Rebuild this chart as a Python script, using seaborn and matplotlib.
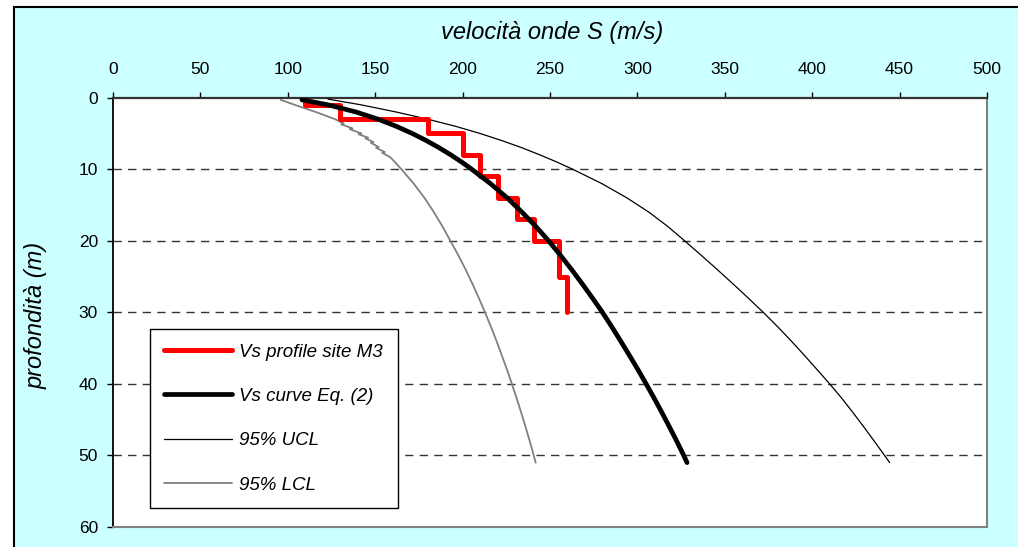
import numpy as np
import pandas as pd
import matplotlib
matplotlib.use("Agg")
import matplotlib.pyplot as plt
from matplotlib.patches import Rectangle
import seaborn as sns

# ---- data ----
# Vs profile site M3 (step profile): layer boundaries (m) and layer velocities (m/s)
profile_depth_bounds = [0, 1, 3, 5, 8, 11, 14, 17, 20, 25, 30]
profile_vs = [110, 130, 180, 200, 210, 220, 231, 241, 255, 260]

# Vs curve Eq. (2)
curve_depth = [0.3, 1, 2, 3, 4, 5, 6, 7, 8, 9, 10, 12, 14, 16, 18, 20, 22, 24, 26,
               28, 30, 32, 34, 36, 38, 40, 42, 44, 46, 48, 50, 51]
curve_vs = [108.1, 123.1, 139.0, 151.6, 162.1, 171.2, 179.3, 186.6, 193.3, 199.5, 205.2,
            215.9, 225.5, 234.0, 241.9, 249.2, 255.9, 262.3, 268.4, 274.3, 280.0, 285.3,
            290.4, 295.4, 300.3, 305.0, 309.6, 314.0, 318.3, 322.5, 326.5, 328.4]

# 95% UCL
ucl_depth = [0.2, 1, 2, 3, 4, 5, 6, 7, 8, 9, 10, 12, 14, 16, 18, 20, 22, 24, 26, 28,
             30, 32, 34, 36, 38, 40, 42, 44, 46, 48, 50, 51]
ucl_vs = [123, 142, 162, 180, 196, 210, 222.5, 234, 244.3, 254, 263, 279.6, 294, 306.6,
          317.4, 327, 336.4, 345.6, 354.6, 363.4, 372, 380.2, 388, 395.5, 402.8, 410,
          416.9, 423.3, 429.5, 435.5, 441.4, 444.3]

# 95% LCL (slightly jagged between 3.5 and 8.5 m)
lcl_depth = [0.3, 1, 2, 3, 3.6, 3.7, 4.3, 4.4, 5.0, 5.1, 5.6, 5.7, 6.2, 6.3, 6.9, 7.0,
             7.6, 7.7, 8.3, 9, 10, 12, 14, 16, 18, 20, 22, 24, 26, 28, 30, 32, 34, 36,
             38, 40, 42, 44, 46, 48, 50, 51]
lcl_vs = [96, 104, 116, 127, 132, 130.5, 137, 135.5, 142, 140.5, 146, 144.5, 149, 147.5,
          152, 150.5, 155.5, 154, 158.5, 161.3, 165, 172, 178.2, 183.6, 188.5, 193,
          197.5, 201.7, 205.6, 209.3, 212.8, 216.2, 219.4, 222.4, 225.4, 228.2, 230.9,
          233.5, 236.0, 238.4, 240.7, 241.8]

x_ticks = [0, 50, 100, 150, 200, 250, 300, 350, 400, 450, 500]
y_ticks = [0, 10, 20, 30, 40, 50, 60]
grid_depths = [10, 20, 30, 40, 50]

# ---- build step coordinates for the profile ----
step_x, step_y = [], []
for i, v in enumerate(profile_vs):
    step_x += [v, v]
    step_y += [profile_depth_bounds[i], profile_depth_bounds[i + 1]]
df_prof = pd.DataFrame({"vs": step_x, "z": step_y})
df_curve = pd.DataFrame({"vs": curve_vs, "z": curve_depth})
df_ucl = pd.DataFrame({"vs": ucl_vs, "z": ucl_depth})
df_lcl = pd.DataFrame({"vs": lcl_vs, "z": lcl_depth})

sns.set_style("white")
plt.rcParams["font.family"] = ["Liberation Sans", "DejaVu Sans"]
for k in ["text.color", "axes.labelcolor", "xtick.color", "ytick.color"]:
    plt.rcParams[k] = "black"

W, H = 1018, 547
fig = plt.figure(figsize=(W / 100, H / 100), dpi=100, facecolor="white")
fig.patches.append(Rectangle((14 / W, -0.1), 1.2, 1 - 7 / H + 0.1,
                             transform=fig.transFigure, facecolor="#CCFFFF",
                             edgecolor="black", lw=1.5, zorder=-10))

L, R, T, B = 113 / W, 987 / W, 1 - 97.7 / H, 1 - 527 / H
ax = fig.add_axes([L, B, R - L, T - B])
ax.set_facecolor("white")

sns.lineplot(data=df_prof, x="vs", y="z", sort=False, estimator=None, ax=ax,
             color="#FF0000", lw=3.6, label="Vs profile site M3", zorder=4)
sns.lineplot(data=df_curve, x="vs", y="z", sort=False, estimator=None, ax=ax,
             color="black", lw=3.4, label="Vs curve Eq. (2)", zorder=5)
sns.lineplot(data=df_ucl, x="vs", y="z", sort=False, estimator=None, ax=ax,
             color="black", lw=0.9, label="95% UCL", zorder=3)
sns.lineplot(data=df_lcl, x="vs", y="z", sort=False, estimator=None, ax=ax,
             color="#808080", lw=1.3, label="95% LCL", zorder=3)

ax.set_xlim(0, 500)
ax.set_ylim(60, 0)
ax.set_xticks(x_ticks)
ax.set_yticks(y_ticks)
ax.xaxis.tick_top()
ax.tick_params(axis="x", which="both", top=True, bottom=False, direction="out",
               length=4.3, width=1, labelsize=12.5, pad=10.5, colors="black")
ax.tick_params(axis="y", which="both", left=True, direction="out",
               length=4.3, width=1, labelsize=12.5, pad=6.5, colors="black")

for yv in grid_depths:
    ax.axhline(yv, color="#333333", lw=1.0, ls=(0, (6, 4.5)), zorder=1)

ax.set_xlabel("")
ax.set_ylabel("")
fig.text(552.5 / W, 1 - 32 / H, "velocità onde S (m/s)", fontsize=17, style="italic",
         ha="center", va="center", color="black")
fig.text(36 / W, 1 - 315 / H, "profondità (m)", fontsize=17, style="italic",
         ha="center", va="center", rotation=90, color="black")

ax.spines["top"].set_color("#333333")
ax.spines["top"].set_linewidth(1.6)
ax.spines["left"].set_color("black")
ax.spines["left"].set_linewidth(1.3)
for s in ["right", "bottom"]:
    ax.spines[s].set_color("#808080")
    ax.spines[s].set_linewidth(1.5)

leg = ax.legend(loc="lower left", bbox_to_anchor=(150 / W, 1 - 508 / H),
                bbox_transform=fig.transFigure, borderaxespad=0,
                frameon=True, fancybox=False, edgecolor="black",
                prop={"style": "italic", "size": 13.5}, handlelength=3.6,
                labelspacing=1.45, borderpad=0.77, handletextpad=0.4)
leg.get_frame().set_linewidth(1.0)
leg.get_frame().set_facecolor("white")
leg.get_frame().set_alpha(1)
for t in leg.get_texts():
    t.set_color("black")

fig.savefig("out.png", dpi=100, facecolor=fig.get_facecolor())
